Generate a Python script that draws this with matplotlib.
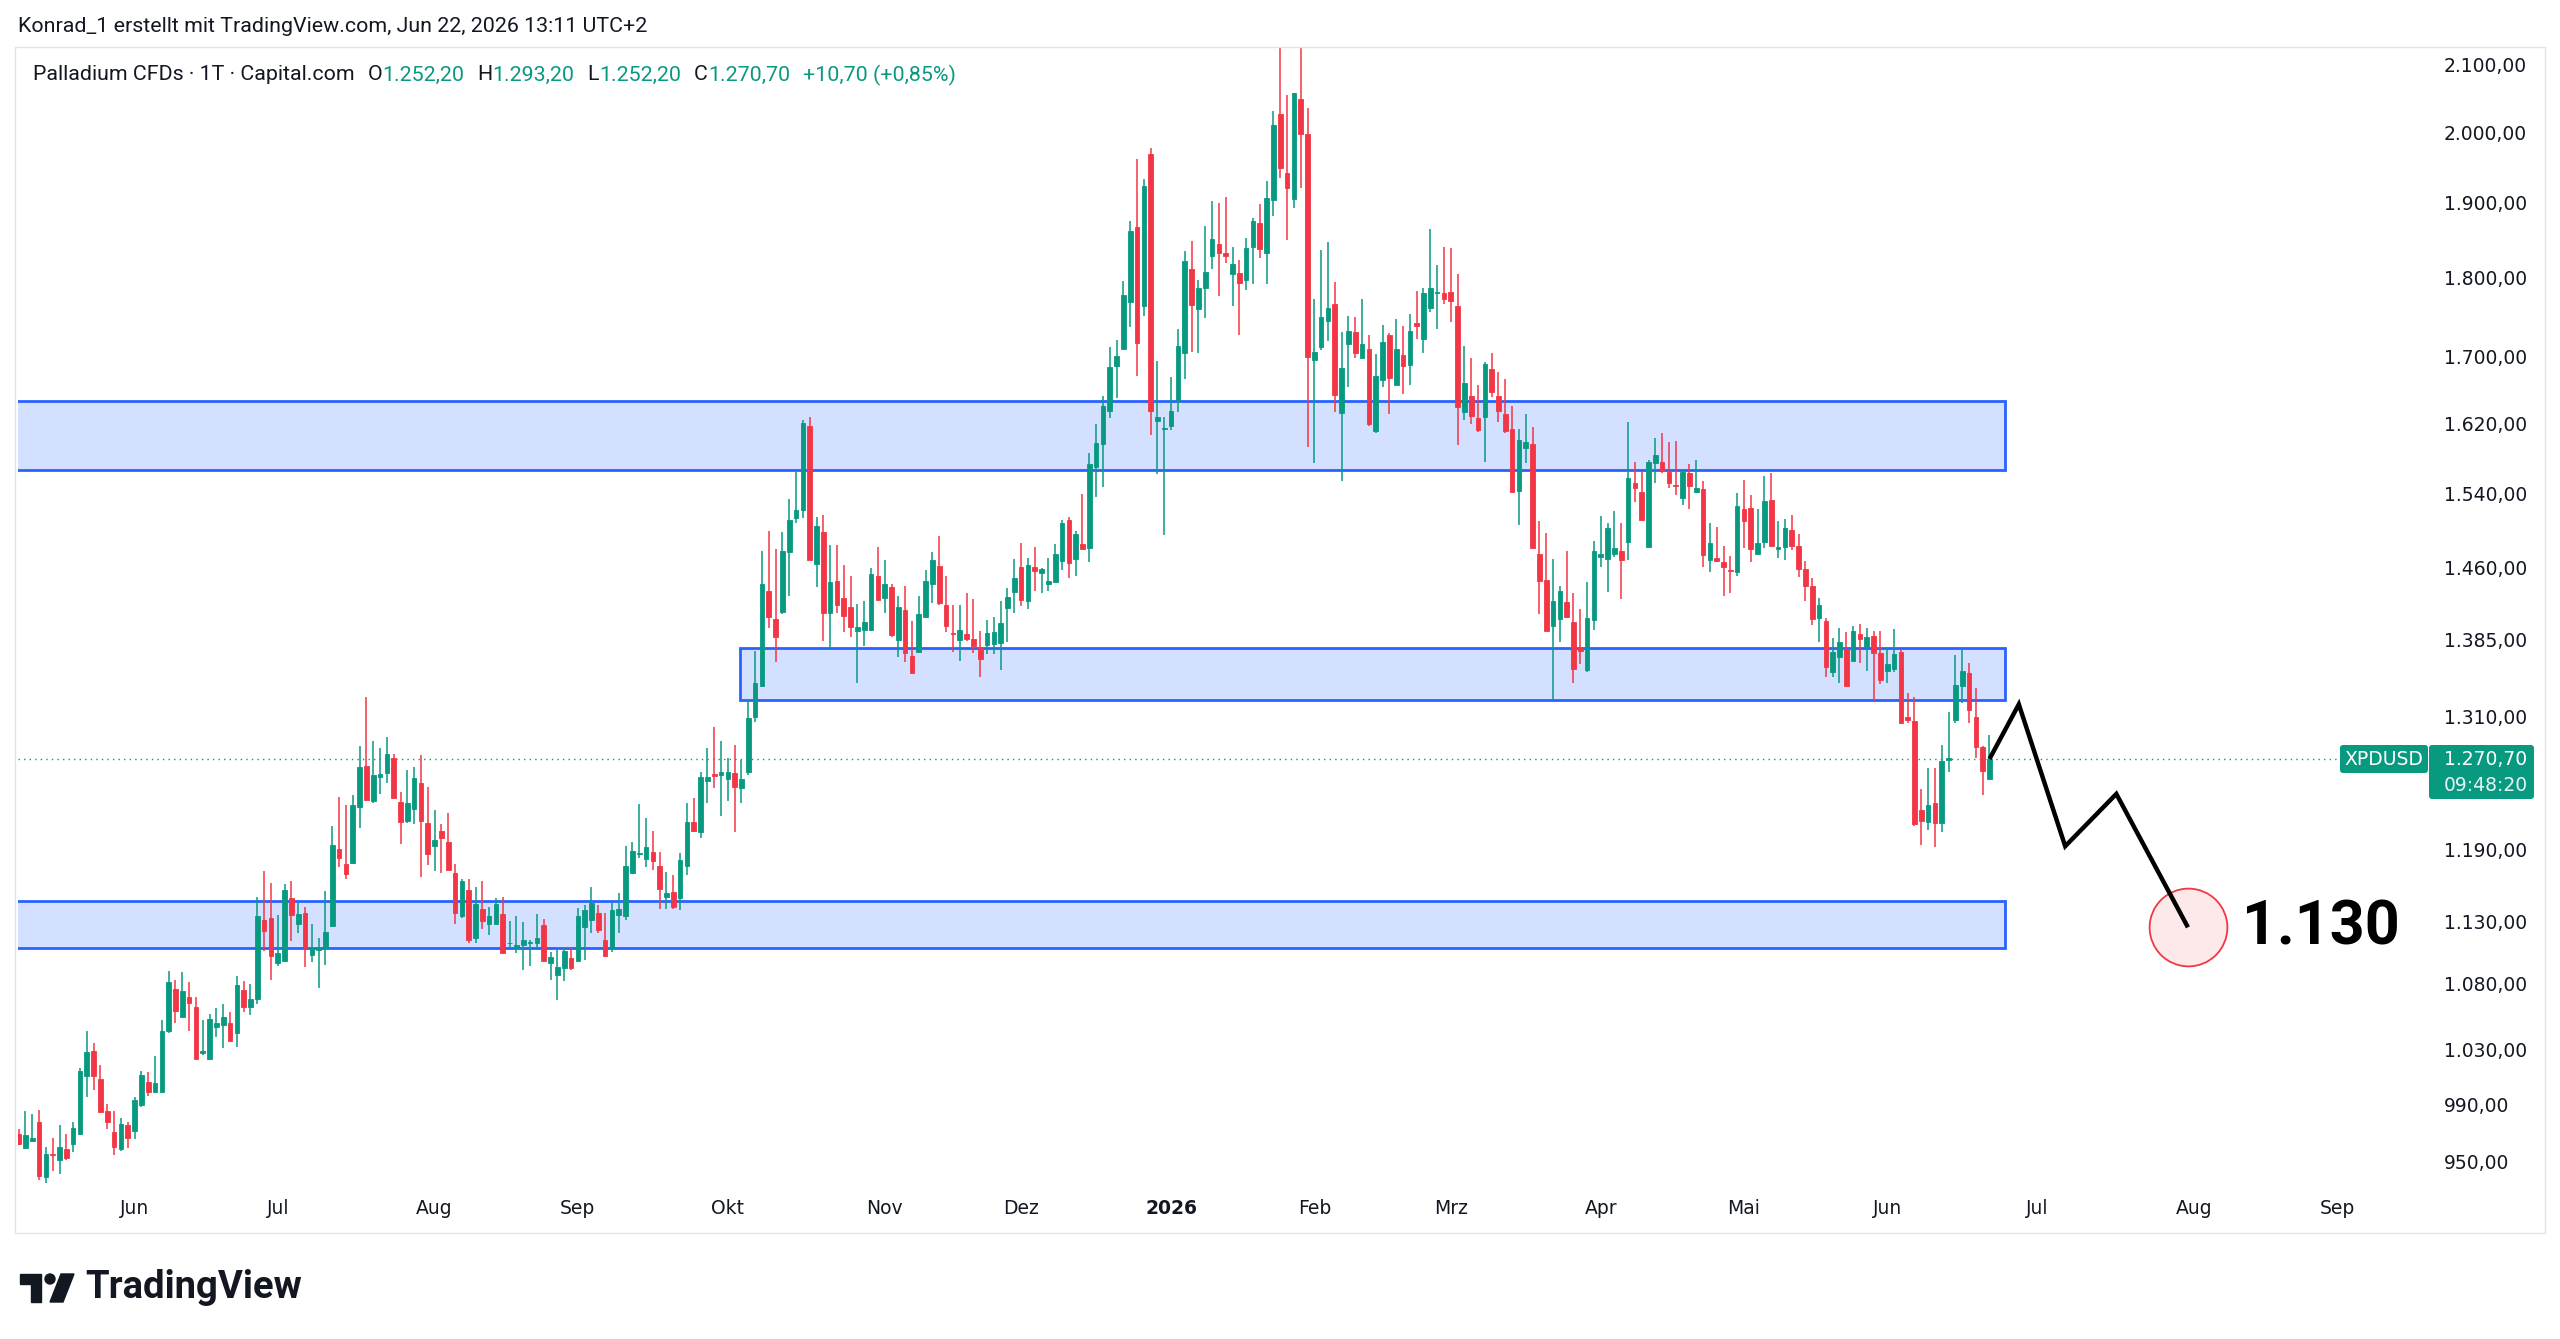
import numpy as np
import pandas as pd
import matplotlib
matplotlib.use("Agg")
import matplotlib.pyplot as plt
from matplotlib.patches import Rectangle, FancyBboxPatch, Polygon, Ellipse
from matplotlib.transforms import IdentityTransform
from matplotlib.ticker import NullLocator, NullFormatter

W, H = 2560, 1339
UP, DOWN = "#089981", "#f23645"
INK = "#131722"

# daily candles, XPDUSD
opens = [
    969, 959, 964, 977, 939, 955, 951, 958, 962, 969,
    1010, 1029, 1008, 985, 970, 958, 975, 971, 989, 1006,
    999, 999, 1044, 1076, 1054, 1070, 1062, 1027, 1023, 1047,
    1048, 1050, 1042, 1075, 1062, 1068, 1131, 1133, 1096, 1098,
    1149, 1128, 1137, 1103, 1107, 1108, 1126, 1191, 1178, 1179,
    1227, 1264, 1233, 1254, 1258, 1272, 1232, 1215, 1226, 1249,
    1213, 1193, 1206, 1197, 1170, 1134, 1156, 1116, 1140, 1128,
    1128, 1136, 1112, 1108, 1111, 1112, 1112, 1127, 1096, 1087,
    1092, 1100, 1098, 1125, 1131, 1137, 1115, 1108, 1135, 1134,
    1170, 1186, 1182, 1188, 1176, 1150, 1154, 1149, 1176, 1214,
    1205, 1251, 1257, 1256, 1252, 1258, 1244, 1259, 1310, 1340,
    1435, 1406, 1413, 1476, 1513, 1521, 1617, 1463, 1498, 1412,
    1445, 1428, 1418, 1394, 1395, 1395, 1451, 1428, 1439, 1385,
    1415, 1369, 1373, 1408, 1442, 1461, 1420, 1392, 1385, 1391,
    1386, 1377, 1380, 1381, 1382, 1417, 1434, 1460, 1425, 1460,
    1454, 1442, 1444, 1466, 1511, 1469, 1485, 1480, 1570, 1596,
    1635, 1688, 1709, 1769, 1867, 1763, 1968, 1623, 1613, 1617,
    1647, 1704, 1812, 1760, 1786, 1829, 1844, 1833, 1805, 1806,
    1797, 1840, 1872, 1833, 1904, 2026, 1941, 1906, 2049, 1997,
    1696, 1712, 1745, 1766, 1632, 1716, 1731, 1699, 1709, 1611,
    1672, 1727, 1666, 1702, 1690, 1742, 1722, 1761, 1780, 1780,
    1782, 1763, 1633, 1652, 1626, 1628, 1685, 1652, 1631, 1613,
    1543, 1591, 1596, 1474, 1446, 1399, 1406, 1424, 1403, 1377,
    1355, 1405, 1471, 1469, 1474, 1477, 1487, 1552, 1541, 1481,
    1574, 1575, 1564, 1549, 1535, 1563, 1541, 1545, 1468, 1470,
    1465, 1457, 1455, 1523, 1524, 1474, 1487, 1533, 1479, 1481,
    1500, 1482, 1458, 1440, 1407, 1404, 1353, 1368, 1376, 1364,
    1391, 1378, 1389, 1372, 1354, 1356, 1373, 1310, 1306, 1225,
    1214, 1231, 1213, 1270, 1307, 1340, 1352, 1310, 1282, 1252.2,
]
highs = [
    972, 985, 983, 986, 960, 966, 975, 969, 977, 1016,
    1044, 1035, 1018, 990, 985, 980, 977, 995, 1014, 1013,
    1025, 1052, 1090, 1083, 1089, 1081, 1070, 1052, 1057, 1061,
    1064, 1058, 1086, 1082, 1080, 1150, 1172, 1162, 1135, 1161,
    1163, 1145, 1142, 1128, 1116, 1155, 1211, 1236, 1229, 1238,
    1283, 1329, 1287, 1281, 1291, 1275, 1241, 1261, 1263, 1274,
    1245, 1225, 1212, 1222, 1178, 1165, 1165, 1158, 1163, 1142,
    1149, 1150, 1130, 1134, 1129, 1115, 1136, 1132, 1105, 1107,
    1108, 1109, 1141, 1143, 1158, 1143, 1137, 1145, 1153, 1193,
    1197, 1230, 1218, 1206, 1188, 1171, 1168, 1187, 1231, 1235,
    1259, 1281, 1300, 1287, 1272, 1284, 1270, 1326, 1374, 1477,
    1499, 1479, 1497, 1534, 1564, 1624, 1628, 1514, 1516, 1484,
    1483, 1462, 1451, 1422, 1425, 1459, 1481, 1467, 1442, 1430,
    1440, 1404, 1430, 1457, 1476, 1493, 1451, 1420, 1420, 1433,
    1427, 1394, 1405, 1408, 1425, 1438, 1469, 1486, 1470, 1481,
    1459, 1470, 1485, 1511, 1514, 1499, 1539, 1586, 1619, 1652,
    1712, 1721, 1796, 1875, 1961, 1933, 1977, 1695, 1627, 1675,
    1735, 1835, 1849, 1797, 1868, 1903, 1900, 1908, 1840, 1823,
    1852, 1880, 1898, 1931, 2031, 2125, 2054, 2058, 2125, 2035,
    1772, 1836, 1847, 1794, 1731, 1751, 1749, 1772, 1727, 1703,
    1740, 1730, 1747, 1738, 1753, 1783, 1787, 1864, 1817, 1840,
    1839, 1805, 1713, 1699, 1666, 1693, 1705, 1681, 1673, 1641,
    1613, 1631, 1616, 1510, 1496, 1469, 1440, 1477, 1433, 1416,
    1444, 1488, 1515, 1507, 1520, 1507, 1622, 1575, 1565, 1578,
    1603, 1609, 1598, 1599, 1566, 1573, 1578, 1554, 1507, 1503,
    1482, 1472, 1540, 1555, 1538, 1523, 1559, 1563, 1510, 1512,
    1516, 1495, 1466, 1448, 1428, 1407, 1387, 1397, 1393, 1399,
    1401, 1397, 1394, 1394, 1377, 1396, 1376, 1333, 1329, 1243,
    1262, 1262, 1284, 1315, 1370, 1375, 1362, 1338, 1283, 1293.2,
]
lows = [
    961, 958, 963, 937, 935, 943, 941, 951, 956, 968,
    995, 1000, 984, 972, 954, 957, 959, 965, 988, 996,
    998, 998, 1042, 1050, 1054, 1044, 1023, 1026, 1022, 1039,
    1031, 1036, 1032, 1058, 1056, 1064, 1106, 1083, 1094, 1097,
    1114, 1120, 1093, 1097, 1077, 1095, 1125, 1175, 1165, 1178,
    1209, 1234, 1231, 1239, 1249, 1235, 1195, 1213, 1212, 1167,
    1177, 1172, 1170, 1173, 1128, 1133, 1112, 1112, 1124, 1119,
    1127, 1104, 1108, 1104, 1091, 1094, 1108, 1097, 1083, 1067,
    1082, 1091, 1098, 1099, 1120, 1120, 1101, 1105, 1120, 1131,
    1169, 1183, 1175, 1173, 1140, 1140, 1140, 1139, 1168, 1205,
    1200, 1231, 1244, 1219, 1233, 1205, 1231, 1256, 1305, 1339,
    1397, 1363, 1411, 1430, 1507, 1513, 1468, 1439, 1384, 1376,
    1412, 1393, 1388, 1343, 1379, 1394, 1426, 1412, 1388, 1368,
    1363, 1352, 1373, 1407, 1423, 1420, 1393, 1373, 1364, 1384,
    1372, 1348, 1371, 1371, 1355, 1383, 1412, 1419, 1416, 1435,
    1433, 1435, 1444, 1457, 1448, 1451, 1479, 1465, 1536, 1547,
    1626, 1650, 1709, 1737, 1677, 1751, 1606, 1562, 1494, 1612,
    1633, 1673, 1706, 1705, 1748, 1811, 1776, 1819, 1764, 1727,
    1784, 1792, 1826, 1792, 1882, 1935, 1850, 1893, 1920, 1593,
    1574, 1708, 1720, 1633, 1554, 1663, 1698, 1698, 1617, 1609,
    1663, 1631, 1665, 1655, 1665, 1722, 1705, 1756, 1735, 1766,
    1743, 1595, 1624, 1619, 1610, 1575, 1651, 1622, 1609, 1541,
    1505, 1574, 1480, 1411, 1394, 1326, 1383, 1407, 1343, 1361,
    1353, 1395, 1460, 1434, 1471, 1427, 1467, 1530, 1510, 1481,
    1552, 1563, 1546, 1538, 1527, 1523, 1540, 1460, 1455, 1465,
    1430, 1433, 1451, 1480, 1465, 1474, 1480, 1482, 1470, 1468,
    1478, 1450, 1425, 1400, 1383, 1348, 1348, 1343, 1340, 1364,
    1362, 1354, 1324, 1342, 1343, 1353, 1303, 1304, 1211, 1194,
    1207, 1192, 1205, 1259, 1304, 1323, 1304, 1272, 1238, 1252.2,
]
closes = [
    962, 968, 966, 940, 955, 954, 960, 952, 973, 1014,
    1028, 1010, 984, 977, 960, 976, 966, 993, 1011, 999,
    1005, 1044, 1081, 1059, 1074, 1065, 1023, 1029, 1053, 1050,
    1054, 1036, 1079, 1062, 1068, 1134, 1122, 1102, 1104, 1156,
    1135, 1136, 1108, 1108, 1108, 1121, 1194, 1183, 1169, 1229,
    1263, 1234, 1256, 1257, 1275, 1235, 1214, 1231, 1253, 1215,
    1186, 1198, 1200, 1173, 1137, 1163, 1115, 1144, 1130, 1134,
    1144, 1104, 1112.5, 1111, 1115, 1113, 1116, 1098, 1101, 1093,
    1106, 1092, 1134, 1139, 1145, 1123, 1102, 1139, 1140, 1176,
    1189, 1187, 1192, 1180, 1157, 1153, 1142, 1181, 1214, 1206,
    1254, 1254, 1255, 1259, 1259, 1245, 1252, 1309, 1343, 1442,
    1408, 1388, 1477, 1511, 1522, 1620, 1468, 1504, 1412, 1444,
    1420, 1409, 1398, 1398, 1403, 1453, 1426, 1442, 1390, 1418,
    1372, 1352, 1411, 1445, 1467, 1423, 1399, 1391, 1395, 1386,
    1379, 1366, 1392, 1393, 1402, 1429, 1449, 1426, 1462, 1456,
    1458, 1445, 1474, 1507, 1464, 1495, 1479, 1573, 1597, 1640,
    1687, 1701, 1778, 1862, 1717, 1923, 1635, 1627, 1615, 1634,
    1713, 1822, 1765, 1787, 1808, 1851, 1833, 1829, 1818, 1793,
    1839, 1875, 1838, 1907, 2010, 1948, 1921, 2057, 1997, 1700,
    1706, 1750, 1761, 1653, 1686, 1732, 1705, 1716, 1619, 1677,
    1718, 1674, 1709, 1689, 1732, 1738, 1780, 1786, 1782, 1772,
    1770, 1639, 1668, 1629, 1612, 1691, 1657, 1635, 1611, 1541,
    1601, 1598, 1480, 1445, 1394, 1425, 1435, 1408, 1356, 1374,
    1407, 1477, 1474, 1502, 1480, 1468, 1557, 1546, 1511, 1575,
    1583, 1565, 1552, 1548, 1564, 1548, 1546, 1473, 1486, 1466,
    1460, 1456, 1526, 1510, 1479, 1486, 1531, 1482, 1481, 1502,
    1482, 1458, 1440, 1406, 1420, 1358, 1373, 1383, 1340, 1394,
    1386, 1388, 1372, 1345, 1361, 1371, 1304, 1307, 1212, 1215,
    1229, 1213, 1269, 1272, 1341, 1354, 1317, 1282, 1260, 1270.7,
]
day_change = "+10,70 (+0,85%)"

first_day = "2025-05-08"
axis_end = "2026-09-30"
holidays = ["2025-12-25", "2026-01-01", "2026-04-03"]

# drawn zones (price bands) and the forecast zig-zag, in bar index / price
zone_low = [1566, 1326, 1108]
zone_high = [1646, 1377, 1147]
zone_from = [-10, 105.8, -10]
zone_to = 291.3

path_x = [289, 293.3, 300.1, 307.6, 318.1]
path_y = [1270.7, 1322, 1193, 1239, 1125]
target_text = "1.130"

price_ticks = [2100, 2000, 1900, 1800, 1700, 1620, 1540, 1460, 1385, 1310,
               1190, 1130, 1080, 1030, 990, 950]
month_names = {1: "2026", 2: "Feb", 3: "Mrz", 4: "Apr", 5: "Mai", 6: "Jun",
               7: "Jul", 8: "Aug", 9: "Sep", 10: "Okt", 11: "Nov", 12: "Dez"}


def fx(x):
    return x / W


def fy(y):
    return 1 - y / H


def de(v):
    s = f"{v:,.2f}"
    return s.replace(",", "_").replace(".", ",").replace("_", ".")


o = np.array(opens)
h = np.array(highs)
l = np.array(lows)
c = np.array(closes)
n = len(c)
x = np.arange(n)

days = pd.bdate_range(first_day, axis_end)
days = days[~days.isin(pd.to_datetime(holidays))]
month_pos = [i for i in range(1, len(days)) if days[i].month != days[i - 1].month]
month_lbl = [month_names[days[i].month] for i in month_pos]

fig = plt.figure(figsize=(W / 100, H / 100), dpi=100)
fig.patch.set_facecolor("white")
ax = fig.add_axes([fx(18), fy(1190), (2428 - 18) / W, (1190 - 48) / H])

ax.set_yscale("log")
ax.set_ylim(930.3, 2125.4)
ax.set_xlim(-0.09, 353.3)

# zones
for lo, hi, x0 in zip(zone_low, zone_high, zone_from):
    ax.add_patch(Rectangle((x0, lo), zone_to - x0, hi - lo, facecolor="#d4e0ff",
                           edgecolor="#2962ff", lw=2.0, zorder=1))

# last price line
ax.axhline(c[-1], color=UP, lw=1.0, ls=(0, (1, 3)), zorder=2)

# candles
up = c >= o
cols = np.where(up, UP, DOWN)
ax.vlines(x, l, h, colors=cols, lw=1.1, zorder=3)
lo_b = np.minimum(o, c)
ax.bar(x, np.abs(c - o), bottom=lo_b, width=0.68, color=cols, edgecolor=cols,
       linewidth=0.6, zorder=4)

# forecast path
ax.plot(path_x[-1], path_y[-1], marker="o", ms=56, mfc="#fde8ea", mec=DOWN,
        mew=1.3, zorder=5)
ax.plot(path_x, path_y, color="black", lw=3.2, solid_joinstyle="miter",
        solid_capstyle="butt", zorder=6)
ax.text(326, 1111, target_text, fontsize=44, fontweight="bold", family="Roboto",
        color="black", ha="left", va="baseline", zorder=7)

# axes cosmetics
for s in ax.spines.values():
    s.set_visible(False)
ax.yaxis.tick_right()
ax.set_yticks(price_ticks)
ax.set_yticklabels([de(v) for v in price_ticks])
ax.yaxis.set_minor_locator(NullLocator())
ax.yaxis.set_minor_formatter(NullFormatter())
ax.tick_params(axis="y", length=0, pad=11.5, labelsize=13.5, labelcolor=INK)
ax.set_xticks(month_pos)
ax.set_xticklabels(month_lbl)
ax.tick_params(axis="x", length=0, pad=6.5, labelsize=13.5, labelcolor=INK)
for t in ax.get_xticklabels():
    if t.get_text() == "2026":
        t.set_fontweight("bold")

# price label boxes on the right
y_line = H - ax.transData.transform((0, c[-1]))[1]
fig.add_artist(FancyBboxPatch((2340, H - y_line - 14), 88, 28,
                              boxstyle="round,pad=0,rounding_size=3",
                              transform=IdentityTransform(), facecolor=UP, edgecolor="none"))
fig.add_artist(FancyBboxPatch((2429, H - y_line - 40), 105, 54,
                              boxstyle="round,pad=0,rounding_size=3",
                              transform=IdentityTransform(), facecolor=UP, edgecolor="none"))
fig.text(fx(2384), fy(y_line), "XPDUSD", ha="center", va="center", color="white", fontsize=13.5)
fig.text(fx(2444), fy(y_line), de(c[-1]), ha="left", va="center", color="white", fontsize=13.5)
fig.text(fx(2444), fy(y_line + 26), "09:48:20", ha="left", va="center", color="#e6f5f2", fontsize=13.5)

# outer frame
fig.add_artist(Rectangle((fx(15), fy(1233)), (2545 - 15) / W, (1233 - 47) / H,
                         transform=fig.transFigure, fill=False, edgecolor="#e0e3eb", lw=1))

# header
hdr = dict(family="Roboto", fontsize=15.4, va="center")
fig.text(fx(18), fy(27), "Konrad_1 erstellt mit TradingView.com, Jun 22, 2026 13:11 UTC+2",
         color=INK, **hdr)

renderer = fig.canvas.get_renderer()
pieces = [("Palladium CFDs · 1T · Capital.com", INK, 13),
          ("O", INK, 0), (de(opens[-1]), UP, 13),
          ("H", INK, 0), (de(highs[-1]), UP, 13),
          ("L", INK, 0), (de(lows[-1]), UP, 13),
          ("C", INK, 0), (de(closes[-1]), UP, 13),
          (day_change, UP, 0)]
xpos = 33
for txt, col, gap in pieces:
    t = fig.text(fx(xpos), fy(75), txt, color=col, **hdr)
    xpos = t.get_window_extent(renderer).x1 + gap

# TradingView logo
fig.add_artist(Polygon([(fx(20), fy(1274)), (fx(41), fy(1274)), (fx(41), fy(1302)),
                        (fx(31), fy(1302)), (fx(31), fy(1284)), (fx(20), fy(1284))],
                       closed=True, transform=fig.transFigure, color=INK))
fig.add_artist(Polygon([(fx(61), fy(1274)), (fx(74), fy(1274)), (fx(63), fy(1302)),
                        (fx(50), fy(1302))], closed=True, transform=fig.transFigure, color=INK))
fig.add_artist(Ellipse((fx(50), fy(1279)), 10 / W, 10 / H,
                       transform=fig.transFigure, color=INK))
fig.text(fx(85), fy(1288), "TradingView", family="Roboto", fontweight="bold",
         fontsize=27.5, color=INK, va="center", ha="left")

fig.savefig("out.png", dpi=100, facecolor="white")
